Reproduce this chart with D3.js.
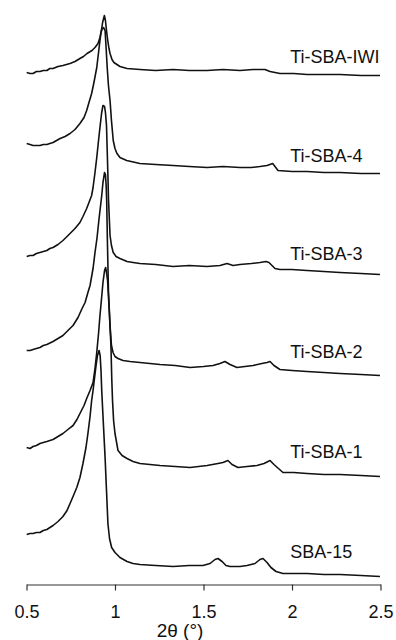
<!DOCTYPE html>
<html>
<head>
<meta charset="utf-8">
<script src="https://cdn.jsdelivr.net/npm/d3@7/dist/d3.min.js"></script>
<style>
  html, body { margin: 0; padding: 0; background: #fff; }
  svg { display: block; }
  text { font-family: "Liberation Sans", Arial, sans-serif; fill: #111; }
</style>
</head>
<body>
<svg id="chart" width="396" height="640"></svg>
<script>
// Low-angle XRD patterns, stacked with vertical offsets (intensity in a.u.)
const sampleNames = ["Ti-SBA-IWI", "Ti-SBA-4", "Ti-SBA-3", "Ti-SBA-2", "Ti-SBA-1", "SBA-15"];

const twoTheta_IWI = [0.501,0.520,0.537,0.556,0.576,0.595,0.615,0.632,0.650,0.678,0.706,0.726,0.746,0.774,0.802,0.822,0.842,0.870,0.887,0.904,0.915,0.924,0.930,0.940,0.946,0.952,0.959,0.966,0.972,0.983,0.994,1.028,1.068,1.141,1.230,1.328,1.420,1.520,1.610,1.706,1.780,1.847,1.876,1.932,2.010,2.085,2.180,2.271,2.390,2.497];
const counts_IWI   = [512,511,511,513,513,514,514,516,516,518,519,520,521,523,526,528,531,534,537,541,547,555,562,569,564,554,544,536,531,525,522,518,516,515,514,515,514,514,515,514,515,515,513,511,511,510,510,510,509,509];

const twoTheta_4 = [0.501,0.520,0.537,0.556,0.576,0.595,0.615,0.632,0.650,0.670,0.690,0.718,0.746,0.774,0.802,0.825,0.840,0.853,0.868,0.881,0.897,0.907,0.915,0.921,0.928,0.935,0.944,0.949,0.956,0.963,0.972,0.980,0.990,1.000,1.011,1.028,1.066,1.141,1.230,1.328,1.420,1.520,1.610,1.706,1.770,1.819,1.859,1.891,1.921,2.000,2.085,2.180,2.271,2.390,2.497];
const counts_4   = [441,440,439,439,439,440,440,441,442,444,446,448,451,455,461,467,474,482,491,502,517,532,544,552,556,557,554,539,517,499,484,464,444,436,431,427,424,421,420,419,418,417,418,417,417,418,419,421,414,413,413,412,412,411,411];

const twoTheta_3 = [0.501,0.520,0.537,0.556,0.576,0.595,0.615,0.632,0.650,0.678,0.706,0.729,0.746,0.774,0.802,0.819,0.840,0.853,0.868,0.876,0.887,0.897,0.907,0.915,0.924,0.932,0.941,0.946,0.952,0.956,0.960,0.963,0.972,0.980,0.990,1.006,1.028,1.068,1.102,1.141,1.230,1.328,1.420,1.520,1.593,1.633,1.667,1.706,1.770,1.819,1.853,1.870,1.904,1.932,2.000,2.085,2.180,2.271,2.390,2.497];
const counts_3   = [328,329,329,331,332,333,334,336,337,340,344,348,351,356,362,368,376,382,389,397,412,427,444,457,471,479,478,472,459,434,409,386,349,339,332,328,326,323,322,321,320,318,319,318,319,321,319,320,321,322,323,322,316,315,315,314,313,312,311,310];

const twoTheta_2 = [0.501,0.520,0.537,0.556,0.576,0.595,0.615,0.650,0.678,0.706,0.734,0.763,0.791,0.814,0.831,0.847,0.859,0.876,0.887,0.898,0.910,0.925,0.932,0.941,0.946,0.950,0.953,0.957,0.963,0.972,0.980,0.989,1.000,1.017,1.045,1.085,1.141,1.254,1.340,1.424,1.500,1.554,1.593,1.621,1.650,1.689,1.734,1.780,1.830,1.859,1.876,1.898,1.932,2.000,2.085,2.180,2.271,2.390,2.497];
const counts_2   = [234,234,235,236,237,239,240,243,246,249,254,259,267,276,282,292,299,316,332,346,366,389,402,412,410,399,384,344,294,259,239,232,228,226,224,223,222,220,219,217,218,219,221,223,220,217,218,219,221,222,223,219,215,214,213,212,211,210,209];

const twoTheta_1 = [0.501,0.520,0.537,0.556,0.576,0.595,0.615,0.650,0.678,0.706,0.734,0.763,0.785,0.802,0.825,0.840,0.859,0.876,0.887,0.897,0.907,0.915,0.924,0.932,0.941,0.947,0.952,0.958,0.968,0.977,0.982,0.986,0.992,1.000,1.017,1.040,1.068,1.102,1.141,1.254,1.340,1.424,1.520,1.582,1.610,1.638,1.661,1.695,1.746,1.802,1.842,1.876,1.898,1.949,2.010,2.085,2.180,2.271,2.390,2.497];
const counts_1   = [137,136,138,139,141,142,143,145,148,151,155,159,165,171,179,186,194,202,216,232,251,269,286,302,314,317,312,304,272,239,204,184,164,151,134,129,126,123,121,119,118,117,119,121,122,124,120,117,118,119,121,124,120,112,112,111,110,110,109,108];

const twoTheta_15 = [0.501,0.520,0.537,0.556,0.576,0.595,0.615,0.650,0.678,0.706,0.729,0.746,0.763,0.784,0.802,0.819,0.836,0.847,0.859,0.868,0.876,0.884,0.893,0.901,0.910,0.916,0.921,0.925,0.932,0.944,0.952,0.960,0.969,0.981,1.000,1.028,1.068,1.102,1.141,1.230,1.328,1.420,1.497,1.537,1.565,1.582,1.605,1.627,1.650,1.706,1.746,1.791,1.819,1.836,1.859,1.881,1.910,1.949,2.010,2.085,2.180,2.271,2.390,2.497];
const counts_15   = [50,51,51,52,52,54,55,59,63,68,74,81,88,97,107,121,137,151,168,184,194,206,219,229,234,229,214,194,169,127,94,61,46,37,32,27,23,21,20,19,18,19,19,21,25,26,23,19,18,18,19,21,25,26,22,17,13,11,11,11,10,10,9,8];

const xTicks = [0.5, 1, 1.5, 2, 2.5];
const xTickLabels = ["0.5", "1", "1.5", "2", "2.5"];
const xTitle = "2θ (°)";

const seriesX = [twoTheta_IWI, twoTheta_4, twoTheta_3, twoTheta_2, twoTheta_1, twoTheta_15];
const seriesY = [counts_IWI, counts_4, counts_3, counts_2, counts_1, counts_15];

// Layout: label anchor (2θ) and baseline pixel rows for each sample name
const labelTheta = 1.99;
const labelBaselines = [62.5, 161.5, 259.5, 358, 458, 558];

const svg = d3.select("#chart");
const axisY = 584.5;

const x = d3.scaleLinear().domain([0.5, 2.5]).range([26.5, 380.5]);
const y = d3.scaleLinear().domain([0, 584]).range([axisY, 0.5]);

const line = d3.line()
  .x(d => x(d[0]))
  .y(d => y(d[1]))
  .curve(d3.curveLinear);

const patterns = svg.append("g").attr("class", "patterns");
seriesX.forEach((xs, i) => {
  const pts = xs.map((v, j) => [v, seriesY[i][j]]);
  patterns.append("path")
    .datum(pts)
    .attr("fill", "none")
    .attr("stroke", "#111")
    .attr("stroke-width", 1.6)
    .attr("stroke-linejoin", "round")
    .attr("d", line);
});

const labels = svg.append("g").attr("class", "labels");
sampleNames.forEach((name, i) => {
  labels.append("text")
    .attr("x", x(labelTheta))
    .attr("y", labelBaselines[i])
    .attr("font-size", 18)
    .text(name);
});

// Bottom axis
const axis = d3.axisBottom(x)
  .tickValues(xTicks)
  .tickFormat((d, i) => xTickLabels[i])
  .tickSizeOuter(0)
  .tickSizeInner(6)
  .tickPadding(15);

const gAxis = svg.append("g")
  .attr("transform", `translate(0,${axisY})`)
  .call(axis);
gAxis.select(".domain").attr("stroke", "#333").attr("stroke-width", 1.2);
gAxis.selectAll(".tick line").attr("stroke", "#333").attr("stroke-width", 1.2);
gAxis.selectAll(".tick text")
  .attr("font-family", "'Liberation Sans', Arial, sans-serif")
  .attr("font-size", 18)
  .attr("fill", "#111");

svg.append("text")
  .attr("x", 180)
  .attr("y", 637)
  .attr("text-anchor", "middle")
  .attr("font-size", 19)
  .text(xTitle);
</script>
</body>
</html>
